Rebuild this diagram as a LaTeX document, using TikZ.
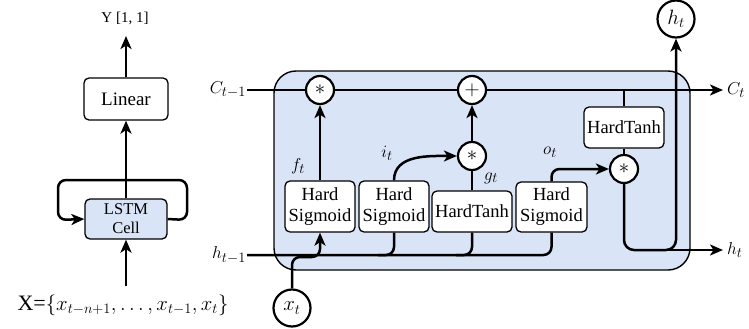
\documentclass[tikz,border=0pt]{standalone}
\usepackage{fontspec}
\setmainfont{Liberation Serif}
\usetikzlibrary{arrows.meta,calc}
\definecolor{cellblue}{RGB}{217,228,246}
\begin{document}
\begin{tikzpicture}[x=1pt,y=-1pt,
  conn/.style={line width=2.5pt},
  arr/.style={conn,-{Stealth[length=13pt,width=11pt,inset=3.5pt]}},
  gate/.style={draw,line width=1.3pt,rounded corners=5pt,fill=white,inner sep=0pt,align=center,font=\fontsize{18.5}{21}\selectfont},
  op/.style={circle,draw,line width=2.2pt,fill=white,minimum size=28pt,inner sep=0pt,font=\fontsize{22}{22}\selectfont},
  io/.style={circle,draw,line width=2.2pt,fill=white,minimum size=37pt,inner sep=0pt,font=\fontsize{20}{20}\selectfont},
  lbl/.style={font=\fontsize{19}{19}\selectfont,inner sep=1pt},
]
\useasboundingbox (0,0) rectangle (749,329);

% ---- unrolled view: LSTM cell feeding a linear head ----
\node[gate, minimum width=84pt, minimum height=42pt, font=\fontsize{19}{20}\selectfont] (lin) at (126,99) {Linear};
\node[gate, fill=cellblue, minimum width=82pt, minimum height=40pt, font=\fontsize{16.5}{19}\selectfont] (lstm) at (126,219) {LSTM\\Cell};
\node[font=\fontsize{15}{15}\selectfont] (yout) at (125,18) {Y [1, 1]};
\node[font=\fontsize{22}{22}\selectfont] (xin) at (123,305) {X=$\{x_{t-n+1},\ldots,x_{t-1},x_t\}$};
\coordinate (ytip) at (126,36);
\coordinate (xbase) at (126,286);
\draw[arr] (lstm.north) -- (lin.south);
\draw[arr] (lin.north) -- (ytip);
\draw[arr] (xbase) -- (lstm.south);
\draw[arr, rounded corners=8pt] (lstm.east) -- (187,220) -- (187,180) -- (58,180) -- (58,220) -- (lstm.west);

% ---- cell internals ----
\node[draw, line width=1.4pt, fill=cellblue, rounded corners=22pt, minimum width=416pt, minimum height=199pt] (cell) at (482,170.5) {};

\coordinate (cin) at (247,90);
\coordinate (cout) at (723,90);
\coordinate (hin) at (247,255);
\coordinate (hout) at (723,250);

\node[op] (m1) at (320,90) {$*$};
\node[op] (pl) at (472,90) {$+$};
\node[op] (m2) at (472,156) {$*$};
\node[op] (m3) at (624,169) {$*$};
\node[io] (ht) at (676,19) {$h_t$};
\node[io] (xt) at (292,308) {$x_t$};

\node[gate, minimum width=70pt, minimum height=51pt] (b1) at (320,206.5) {Hard\\Sigmoid};
\node[gate, minimum width=70pt, minimum height=51pt] (b2) at (394,206.5) {Hard\\Sigmoid};
\node[gate, minimum width=80pt, minimum height=41pt] (g) at (472,211.5) {HardTanh};
\node[gate, minimum width=71pt, minimum height=50pt] (b4) at (551.5,207) {Hard\\Sigmoid};
\node[gate, minimum width=80pt, minimum height=41pt] (tanh) at (624,127.5) {HardTanh};

\node[lbl, anchor=east] (cinl) at (cin) {$C_{t-1}$};
\node[lbl, anchor=west] (coutl) at ($(cout)+(3,0)$) {$C_t$};
\node[lbl, anchor=east] (hinl) at (hin) {$h_{t-1}$};
\node[lbl, anchor=west] (houtl) at ($(hout)+(3,0)$) {$h_t$};
\node[lbl] (fl) at (298,166) {$f_t$};
\node[lbl] (il) at (387,153) {$i_t$};
\node[lbl] (gl) at (491,178) {$g_t$};
\node[lbl] (ol) at (550,152) {$o_t$};

% cell state path
\draw[conn] (cin) -- (m1.west);
\draw[conn] (m1.east) -- (pl.west);
\draw[arr] (pl.east) -- (cout);
% gates
\draw[arr] (b1.north) -- (m1.south);
\draw[arr] (m2.north) -- (pl.south);
\draw[conn] (g.north) -- (m2.south);
\draw[arr] (b2.north) to[out=90,in=180] (m2.west);
\draw[arr, rounded corners=8pt] (b4.north) |- (m3.west);
\draw[conn] (tanh.north |- pl) -- (tanh.north);
\draw[conn] (tanh.south) -- (m3.north);
% hidden state output
\draw[arr, rounded corners=10pt] (m3.south) |- (ht.south |- hout) -- (ht.south);
\draw[arr] ($(ht.south |- hout)+(-20,0)$) -- (hout);
% previous hidden state and input feeding the gates
\draw[conn, rounded corners=8pt] (hin) -| (b4.south);
\draw[conn, rounded corners=8pt] (b2.south) |- ($(b2.south |- hin)+(-16,0)$);
\draw[conn, rounded corners=8pt] (g.south) |- ($(g.south |- hin)+(-16,0)$);
\draw[arr, rounded corners=8pt] (xt.north) |- ($(b1.south |- hin)+(0,2)$) -- (b1.south);
\end{tikzpicture}
\end{document}
